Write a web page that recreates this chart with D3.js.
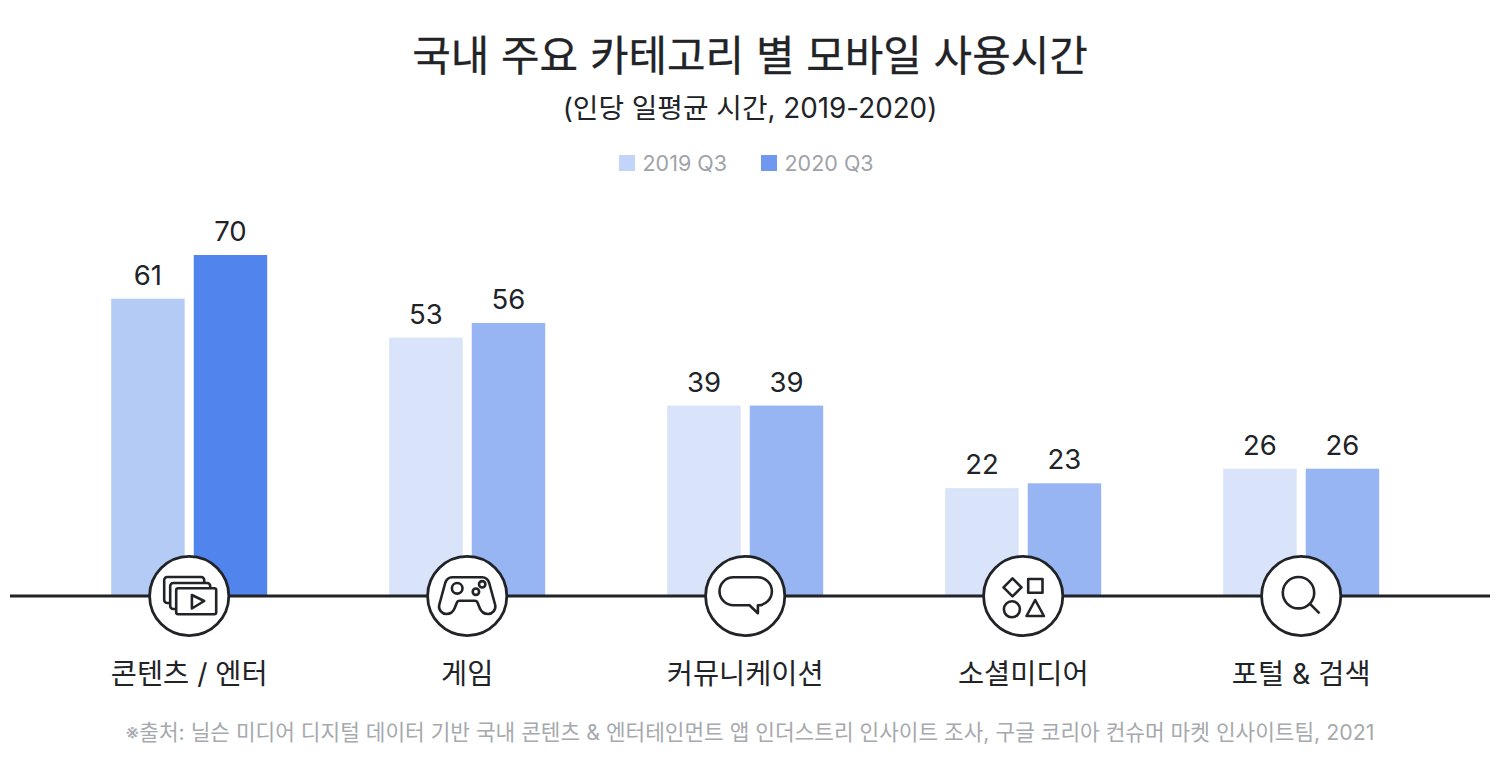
<!DOCTYPE html>
<html lang="ko">
<head>
<meta charset="utf-8">
<script src="https://cdn.jsdelivr.net/npm/d3@7"></script>
<style>
  html, body { margin: 0; background: #fff; }
  svg { display: block; }
  text { font-family: "Inter", "Noto Sans CJK KR", sans-serif; }
</style>
</head>
<body>
<svg id="chart"></svg>
<script>
const categories = ["콘텐츠 / 엔터", "게임", "커뮤니케이션", "소셜미디어", "포털 & 검색"];
const seriesNames = ["2019 Q3", "2020 Q3"];
const values2019 = [61, 53, 39, 22, 26];
const values2020 = [70, 56, 39, 23, 26];

const title = "국내 주요 카테고리 별 모바일 사용시간";
const subtitle = "(인당 일평균 시간, 2019-2020)";
const footnote = "※출처: 닐슨 미디어 디지털 데이터 기반 국내 콘텐츠 & 엔터테인먼트 앱 인더스트리 인사이트 조사, 구글 코리아 컨슈머 마켓 인사이트팀, 2021";

const width = 1500, height = 771;
const baseY = 595;
const ink = "#212327";
const grey = "#9fa3a8";

const legendColors = ["#c2d5f9", "#6f98ef"];
const barColors = ["#d9e3fa", "#98b5f3"];
const firstGroupColors = ["#b4cbf6", "#5284ed"];

const svg = d3.select("#chart")
  .attr("width", width)
  .attr("height", height)
  .attr("viewBox", [0, 0, width, height]);

const x0 = d3.scaleBand().domain(categories).range([50.2, 1440.2]);
const x1 = d3.scaleBand().domain(seriesNames).range([-78, 78]).paddingInner(0.11);
const y = d3.scaleLinear().domain([0, 70]).range([baseY, 255]);

svg.append("text").text(title)
  .attr("x", 750).attr("y", 71)
  .attr("text-anchor", "middle")
  .attr("font-size", 41.9).attr("fill", ink)
  .attr("stroke", ink).attr("stroke-width", 0.3);

svg.append("text").text(subtitle)
  .attr("x", 750).attr("y", 118)
  .attr("text-anchor", "middle")
  .attr("font-size", 27.8).attr("fill", ink);

// legend
const legendX = [619, 761];
seriesNames.forEach((name, i) => {
  svg.append("rect")
    .attr("x", legendX[i]).attr("y", 155)
    .attr("width", 16).attr("height", 16)
    .attr("fill", legendColors[i]);
  svg.append("text").text(name)
    .attr("x", legendX[i] + 23.5).attr("y", 171)
    .attr("font-size", 21.5).attr("fill", grey);
});

// bars and value labels
[values2019, values2020].forEach((values, s) => {
  const name = seriesNames[s];
  svg.append("g").selectAll("rect")
    .data(values)
    .join("rect")
    .attr("x", (d, i) => x0(categories[i]) + x0.bandwidth() / 2 + x1(name))
    .attr("y", d => y(d))
    .attr("width", x1.bandwidth())
    .attr("height", d => baseY - y(d))
    .attr("fill", (d, i) => i === 0 ? firstGroupColors[s] : barColors[s]);

  svg.append("g").selectAll("text")
    .data(values)
    .join("text")
    .text(d => d)
    .attr("x", (d, i) => x0(categories[i]) + x0.bandwidth() / 2 + x1(name) + x1.bandwidth() / 2)
    .attr("y", d => y(d) - 14)
    .attr("text-anchor", "middle")
    .attr("font-size", 27.5).attr("fill", ink);
});

// baseline
svg.append("line")
  .attr("x1", 10).attr("x2", 1490)
  .attr("y1", baseY + 1).attr("y2", baseY + 1)
  .attr("stroke", ink).attr("stroke-width", 3);

// category labels
const axis = svg.append("g")
  .attr("transform", `translate(0,${baseY})`)
  .call(d3.axisBottom(x0).tickSize(0).tickPadding(69));
axis.select(".domain").remove();
axis.selectAll("text")
  .attr("font-size", 28.4)
  .attr("fill", ink)
  .style("font-family", '"Inter", "Noto Sans CJK KR", sans-serif');

// icons, one per category, in coordinates around the circle centre
const drawIcon = [
  g => {
    g.append("rect").attr("x", -25).attr("y", -19).attr("width", 40).attr("height", 26).attr("rx", 3);
    g.append("rect").attr("x", -19).attr("y", -13).attr("width", 40).attr("height", 26).attr("rx", 3);
    g.append("rect").attr("x", -13).attr("y", -7.7).attr("width", 40).attr("height", 26).attr("rx", 2);
    g.append("path").attr("d", "M2.7,-1 L15,5 L2.7,12.5Z");
  },
  g => {
    g.append("path").attr("d", "M-15,-18.7 H15 C19,-18.7 21,-16 22,-13 L28,9 C29,14 25,18 21,18 C17,18 14,16 12.5,12 L10.5,7 C10,5.5 9,4.7 7.5,4.7 H-7.5 C-9,4.7 -10,5.5 -10.5,7 L-12.5,12 C-14,16 -17,18 -21,18 C-25,18 -29,14 -28,9 L-22,-13 C-21,-16 -19,-18.7 -15,-18.7Z");
    g.append("circle").attr("cx", -10).attr("cy", -7.7).attr("r", 5.3);
    g.append("circle").attr("cx", 15).attr("cy", -11.7).attr("r", 3.2);
    g.append("circle").attr("cx", 8.7).attr("cy", -4.3).attr("r", 3.2);
  },
  g => {
    g.append("path").attr("d", "M-11.7,-18.7 H12.7 A14,14 0 0 1 12.7,9.3 V17.3 L4.3,9.3 H-11.7 A14,14 0 0 1 -11.7,-18.7Z");
  },
  g => {
    g.append("path").attr("d", "M-10.7,-17.7 L-1.7,-8.7 L-10.7,0.3 L-19.7,-8.7Z");
    g.append("rect").attr("x", 5).attr("y", -17).attr("width", 14.3).attr("height", 13.7);
    g.append("circle").attr("cx", -11.3).attr("cy", 13.3).attr("r", 8);
    g.append("path").attr("d", "M12,4 L20.7,20 H3.3Z");
  },
  g => {
    g.append("circle").attr("cx", -2.7).attr("cy", -3.3).attr("r", 15.7);
    g.append("path").attr("d", "M8.3,7.3 L18.3,17.3");
  }
];

categories.forEach((c, i) => {
  const g = svg.append("g")
    .attr("transform", `translate(${x0(c) + x0.bandwidth() / 2},${baseY + 1})`);
  g.append("circle")
    .attr("r", 39.6)
    .attr("fill", "#fff")
    .attr("stroke", ink)
    .attr("stroke-width", 2.8);
  const icon = g.append("g")
    .attr("fill", "#fff")
    .attr("stroke", ink)
    .attr("stroke-width", 2.6)
    .attr("stroke-linejoin", "round");
  drawIcon[i](icon);
});

svg.append("text").text(footnote)
  .attr("x", 750).attr("y", 740)
  .attr("text-anchor", "middle")
  .attr("font-size", 21.35).attr("fill", "#a6a9ad");
</script>
</body>
</html>
